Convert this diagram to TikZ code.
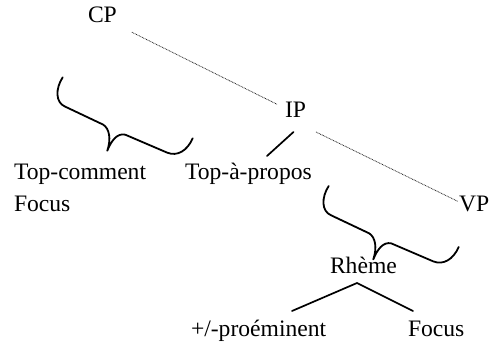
\documentclass[tikz,border=0pt]{standalone}
\usepackage{fontspec}
\setmainfont{Liberation Serif}
\begin{document}
\begin{tikzpicture}[x=1pt,y=-1pt,
  lbl/.style={inner sep=0pt,outer sep=0pt,anchor=base west,font=\fontsize{23.6}{28}\selectfont},
  dotline/.style={line width=0.8pt,black!85,dash pattern=on 0.8pt off 0.8pt},
  solidline/.style={line width=1.7pt,line cap=round},
  bracepath/.style={line width=1.8pt,line cap=round,line join=round}]
\useasboundingbox (0,0) rectangle (490,347);
\node[lbl] (CP) at (88,23) {CP};
\node[lbl] (IP) at (285,118) {IP};
\node[lbl] (VP) at (459,212) {VP};
\node[lbl] (TC) at (14,180) {Top-comment};
\node[lbl] (F1) at (14,212) {Focus};
\node[lbl] (TA) at (185,180) {Top-à-propos};
\node[lbl] (RH) at (330,274) {Rhème};
\node[lbl] (PR) at (191,337) {+/-proéminent};
\node[lbl] (F2) at (408,337) {Focus};
% connectors
\draw[dotline] ([shift={(15,9)}]CP.south east) -- ([shift={(-8,-6)}]IP.west);
\draw[dotline] ([shift={(10,14)}]IP.south east) -- ([shift={(-1,-3)}]VP.west);
\draw[solidline] ([shift={(-2,14)}]IP.south) -- ([shift={(82,-24)}]TA.base west);
\draw[solidline] ([shift={(101,-26)}]PR.base west) -- ([shift={(27,9)}]RH.base west) -- ([shift={(5,-26)}]F2.base west);
% braces
\foreach \sx/\sy/\nm in {107.3/150.7/b1, 373.3/259.4/b2}{
  \coordinate (\nm) at (\sx,\sy);
  \draw[bracepath,shift={(\nm)}]
    (-44.6,-73.4) .. controls (-52,-62) and (-52,-48) .. (-42,-44)
    -- (-4,-26) .. controls (2,-22) and (4,-12) .. (0,0)
    .. controls (4,-10) and (10,-18) .. (18,-16)
    -- (60,2) .. controls (70,6) and (80,0) .. (85.4,-12.4);
}
\end{tikzpicture}
\end{document}
